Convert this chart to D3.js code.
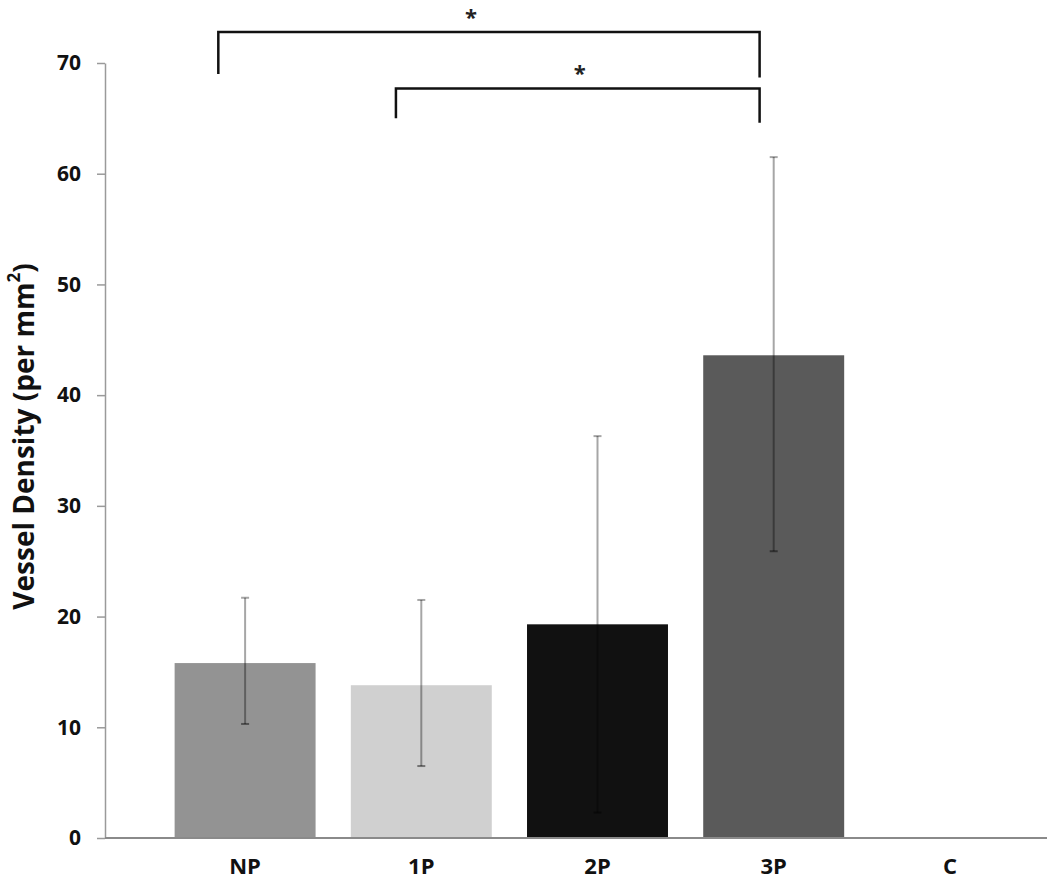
<!DOCTYPE html>
<html>
<head>
<meta charset="utf-8">
<script src="https://cdn.jsdelivr.net/npm/d3@7"></script>
<style>
  body { margin: 0; background: #fff; }
  text { font-family: "Open Sans", sans-serif; }
</style>
</head>
<body>
<svg id="chart"></svg>
<script>
// data
const categories = ['NP', '1P', '2P', '3P', 'C'];
const means = [15.8, 13.8, 19.3, 43.6, null];
const errLow = [10.3, 6.5, 2.3, 25.9, null];
const errHigh = [21.7, 21.5, 36.3, 61.5, null];
const barColors = ['#939393', '#d0d0d0', '#111111', '#5a5a5a', '#ffffff'];
const yTicks = [0, 10, 20, 30, 40, 50, 60, 70];

// significance brackets: from/to category, bracket top, left and right leg ends
const brackets = [
    { from: 'NP', to: '3P', top: 72.8, leftEnd: 69.0, rightEnd: 68.7, fromOff: 0.31, toOff: 0.40, starShift: -18 },
    { from: '1P', to: '3P', top: 67.7, leftEnd: 65.0, rightEnd: 64.6, fromOff: 0.32, toOff: 0.40, starShift: 2 }
];

const width = 1050, height = 882;
const margin = { top: 63, bottom: 44, left: 105, right: 3 };

const svg = d3.select('#chart')
    .attr('width', width)
    .attr('height', height);

const yScale = d3.scaleLinear()
    .domain([0, 70])
    .range([height - margin.bottom, margin.top]);

const xScale = d3.scaleBand()
    .domain(categories)
    .range([157, 1038])
    .paddingInner(0.2)
    .paddingOuter(0.1);

// y axis
const yAxis = d3.axisLeft(yScale)
    .tickValues(yTicks)
    .tickSize(8)
    .tickSizeOuter(0)
    .tickPadding(16);

const yAxisG = svg.append('g')
    .attr('transform', `translate(${margin.left},0)`)
    .call(yAxis);
yAxisG.select('.domain').attr('stroke', '#9a9a9a').attr('stroke-width', 1.5);
yAxisG.selectAll('.tick line').attr('stroke', '#9a9a9a').attr('stroke-width', 1.5);
yAxisG.selectAll('.tick text')
    .attr('font-size', '21px')
    .attr('font-weight', 'bold')
    .attr('fill', '#111');

// bars
svg.selectAll('.bar')
    .data(categories.map((c, i) => ({ cat: c, v: means[i], color: barColors[i] })).filter(d => d.v != null))
    .enter()
    .append('rect')
    .attr('class', 'bar')
    .attr('x', d => xScale(d.cat))
    .attr('width', xScale.bandwidth())
    .attr('y', d => yScale(d.v))
    .attr('height', d => yScale(0) - yScale(d.v))
    .attr('fill', d => d.color);

// x axis line
svg.append('line')
    .attr('x1', margin.left)
    .attr('x2', width - margin.right)
    .attr('y1', yScale(0))
    .attr('y2', yScale(0))
    .attr('stroke', '#8a8a8a')
    .attr('stroke-width', 2);

// category labels
svg.selectAll('.xlabel')
    .data(categories)
    .enter()
    .append('text')
    .attr('class', 'xlabel')
    .attr('x', d => xScale(d) + xScale.bandwidth() / 2)
    .attr('y', yScale(0) + 36)
    .attr('text-anchor', 'middle')
    .attr('font-size', '22px')
    .attr('font-weight', 'bold')
    .attr('fill', '#111')
    .text(d => d);

// error bars
const errData = categories.map((c, i) => ({ cat: c, lo: errLow[i], hi: errHigh[i] })).filter(d => d.lo != null);
const errG = svg.selectAll('.err')
    .data(errData)
    .enter()
    .append('g')
    .attr('class', 'err')
    .attr('transform', d => `translate(${xScale(d.cat) + xScale.bandwidth() / 2},0)`);

errG.append('line')
    .attr('y1', d => yScale(d.lo))
    .attr('y2', d => yScale(d.hi))
    .attr('stroke', 'rgba(0,0,0,0.35)')
    .attr('stroke-width', 2);
errG.append('line')
    .attr('x1', -4).attr('x2', 4)
    .attr('y1', d => yScale(d.hi))
    .attr('y2', d => yScale(d.hi))
    .attr('stroke', 'rgba(0,0,0,0.35)')
    .attr('stroke-width', 2);
errG.append('line')
    .attr('x1', -4).attr('x2', 4)
    .attr('y1', d => yScale(d.lo))
    .attr('y2', d => yScale(d.lo))
    .attr('stroke', 'rgba(0,0,0,0.45)')
    .attr('stroke-width', 2);

// significance brackets
brackets.forEach(b => {
    const x1 = xScale(b.from) + xScale.bandwidth() * b.fromOff;
    const x2 = xScale(b.to) + xScale.bandwidth() * b.toOff;
    const path = d3.path();
    path.moveTo(x1, yScale(b.leftEnd));
    path.lineTo(x1, yScale(b.top));
    path.lineTo(x2, yScale(b.top));
    path.lineTo(x2, yScale(b.rightEnd));
    svg.append('path')
        .attr('d', path.toString())
        .attr('fill', 'none')
        .attr('stroke', '#111')
        .attr('stroke-width', 2.5);
    svg.append('text')
        .attr('x', (x1 + x2) / 2 + b.starShift)
        .attr('y', yScale(b.top) - 7)
        .attr('text-anchor', 'middle')
        .attr('font-size', '22px')
        .attr('font-weight', 'bold')
        .attr('fill', '#222')
        .text('*');
});

// y axis title
svg.append('text')
    .attr('transform', `translate(27,${(yScale(0) + yScale(70)) / 2 - 14}) rotate(-90)`)
    .attr('text-anchor', 'middle')
    .attr('dominant-baseline', 'middle')
    .attr('font-size', '28px')
    .attr('font-weight', 'bold')
    .attr('fill', '#111')
    .html('Vessel Density (per mm<tspan baseline-shift="super" font-size="17px">2</tspan>)');
</script>
</body>
</html>
